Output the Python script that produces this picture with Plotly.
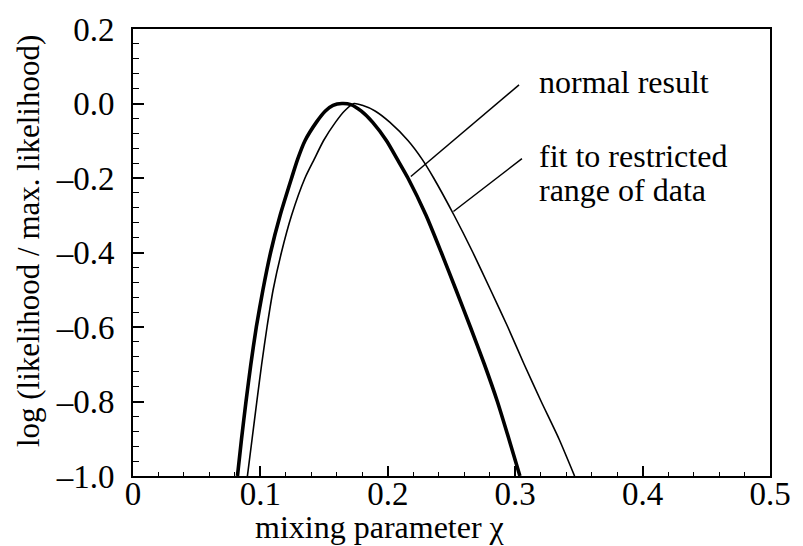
import plotly.graph_objects as go

# Thick curve: normal result
normal_x = [0.0820, 0.0852, 0.0887, 0.0925, 0.0968, 0.1020, 0.1080, 0.1155, 0.1245, 0.1292,
            0.1350, 0.1440, 0.1510, 0.1570, 0.1640, 0.1710, 0.1790, 0.1880, 0.1990, 0.2075,
            0.2158, 0.2300, 0.2420, 0.2535, 0.2648, 0.2758, 0.2860, 0.2950, 0.3037]
normal_y = [-1.000, -0.900, -0.800, -0.700, -0.600, -0.500, -0.400, -0.300, -0.200, -0.150,
            -0.100, -0.050, -0.020, -0.005, 0.000, -0.003, -0.020, -0.050, -0.100, -0.150,
            -0.200, -0.300, -0.400, -0.500, -0.600, -0.700, -0.800, -0.900, -1.000]

# Thin curve: fit to restricted range of data
restricted_x = [0.0898, 0.0935, 0.0972, 0.1010, 0.1052, 0.1100, 0.1165, 0.1245, 0.1350, 0.1422,
                0.1495, 0.1590, 0.1660, 0.1735, 0.1800, 0.1900, 0.2015, 0.2160, 0.2270, 0.2360,
                0.2520, 0.2668, 0.2806, 0.2942, 0.3070, 0.3204, 0.3343, 0.3466]
restricted_y = [-1.000, -0.900, -0.800, -0.700, -0.600, -0.500, -0.400, -0.300, -0.200, -0.150,
                -0.100, -0.050, -0.020, 0.000, -0.005, -0.020, -0.050, -0.100, -0.150, -0.200,
                -0.300, -0.400, -0.500, -0.600, -0.700, -0.800, -0.900, -1.000]

# Leader lines (data coordinates): [start, end]
normal_leader_x = [0.2181, 0.3030]
normal_leader_y = [-0.196, 0.050]
restricted_leader_x = [0.2515, 0.3053]
restricted_leader_y = [-0.290, -0.148]

x_ticks = [0, 0.1, 0.2, 0.3, 0.4, 0.5]
x_ticklabels = ["0", "0.1", "0.2", "0.3", "0.4", "0.5"]
y_ticks = [0.2, 0.0, -0.2, -0.4, -0.6, -0.8, -1.0]
y_ticklabels = ["0.2", "0.0", "\u20130.2", "\u20130.4", "\u20130.6", "\u20130.8", "\u20131.0"]

FONT = "Liberation Serif"
TICK_FS = 33
TEXT_FS = 32

fig = go.Figure()
fig.add_trace(go.Scatter(x=normal_x, y=normal_y, mode="lines",
                         line=dict(color="black", width=3.6, shape="spline", smoothing=0.6),
                         hoverinfo="skip", showlegend=False))
fig.add_trace(go.Scatter(x=restricted_x, y=restricted_y, mode="lines",
                         line=dict(color="black", width=1.6, shape="spline", smoothing=0.6),
                         hoverinfo="skip", showlegend=False))
fig.add_trace(go.Scatter(x=normal_leader_x, y=normal_leader_y, mode="lines",
                         line=dict(color="black", width=1.5), hoverinfo="skip", showlegend=False))
fig.add_trace(go.Scatter(x=restricted_leader_x, y=restricted_leader_y, mode="lines",
                         line=dict(color="black", width=1.5), hoverinfo="skip", showlegend=False))

fig.update_layout(
    width=803, height=546,
    margin=dict(l=133, r=28, t=27, b=70),
    paper_bgcolor="white", plot_bgcolor="white",
    font=dict(family=FONT, size=TEXT_FS, color="black"),
    xaxis=dict(range=[0, 0.5], tickmode="array", tickvals=x_ticks, ticktext=x_ticklabels,
               ticks="inside", ticklen=10, tickwidth=1.5, tickcolor="black",
               minor=dict(dtick=0.02, ticks="inside", ticklen=4, tickwidth=1.2, tickcolor="black"),
               showline=True, linecolor="black", linewidth=2, mirror=True,
               showgrid=False, zeroline=False, ticklabelstandoff=-13,
               tickfont=dict(family=FONT, size=TICK_FS, color="black")),
    yaxis=dict(range=[-1.0, 0.2], tickmode="array", tickvals=y_ticks, ticktext=y_ticklabels,
               ticks="inside", ticklen=11, tickwidth=1.5, tickcolor="black",
               minor=dict(dtick=0.04, tick0=0, ticks="inside", ticklen=6, tickwidth=1.2, tickcolor="black"),
               showline=True, linecolor="black", linewidth=2, mirror=True,
               showgrid=False, zeroline=False, ticklabelstandoff=10,
               tickfont=dict(family=FONT, size=TICK_FS, color="black")),
    annotations=[
        dict(text="mixing parameter \u03c7", xref="paper", yref="paper", x=0.388, y=-0.1136,
             xanchor="center", yanchor="middle", showarrow=False, font=dict(size=TEXT_FS)),
        dict(text="log (likelihood / max. likelihood)", xref="paper", yref="paper",
             x=-0.1636, y=0.525, xanchor="center", yanchor="middle", textangle=-90,
             showarrow=False, font=dict(size=31)),
        dict(text="normal result", xref="x", yref="y", x=0.317, y=0.058,
             xanchor="left", yanchor="middle", showarrow=False, font=dict(size=TEXT_FS)),
        dict(text="fit to restricted", xref="x", yref="y", x=0.317, y=-0.140,
             xanchor="left", yanchor="middle", showarrow=False, font=dict(size=TEXT_FS)),
        dict(text="range of data", xref="x", yref="y", x=0.317, y=-0.232,
             xanchor="left", yanchor="middle", showarrow=False, font=dict(size=TEXT_FS)),
    ],
)

fig.write_html("out.html")
